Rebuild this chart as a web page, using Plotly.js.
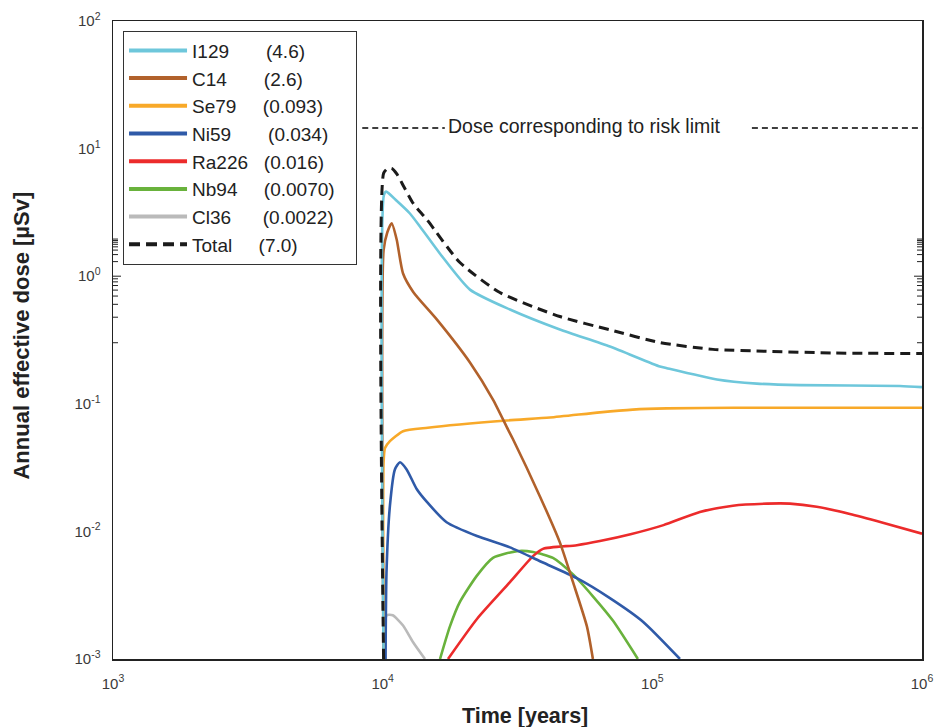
<!DOCTYPE html>
<html>
<head>
<meta charset="utf-8">
<script src="https://cdn.plot.ly/plotly-3.0.1.min.js"></script>
<style>html,body{margin:0;padding:0;background:#fff;}#chart{width:935px;height:727px;}</style>
</head>
<body>
<div id="chart"></div>
<script>
// ---- Data (time in years, annual effective dose in µSv) ----
const seriesNames = ["I129", "C14", "Se79", "Ni59", "Ra226", "Nb94", "Cl36", "Total"];
const peakLabels = ["(4.6)", "(2.6)", "(0.093)", "(0.034)", "(0.016)", "(0.0070)", "(0.0022)", "(7.0)"];

const i129X = [1.008e4, 1.01e4, 1.03e4, 1.127e4, 1.262e4, 1.375e4, 1.632e4, 2.107e4, 2.965e4, 4.54e4, 6.96e4, 1.067e5, 1.132e5, 1.736e5, 2.44e5, 3.53e5, 8.28e5, 1e6];
const i129Y = [0.001, 4.3, 4.6, 3.9, 3.1, 2.45, 1.5, 0.785, 0.548, 0.382, 0.281, 0.196, 0.19, 0.155, 0.144, 0.14, 0.138, 0.135];

const c14X = [1.008e4, 1.008e4, 1.04e4, 1.08e4, 1.127e4, 1.19e4, 1.3e4, 1.59e4, 2.107e4, 2.565e4, 2.915e4, 3.04e4, 3.83e4, 4.54e4, 5.08e4, 5.72e4, 6.02e4];
const c14Y = [0.001, 1.6, 2.2, 2.6, 1.94, 1.05, 0.75, 0.457, 0.211, 0.108, 0.063, 0.053, 0.0188, 0.0082, 0.004, 0.0018, 0.001];

const se79X = [1.008e4, 1.008e4, 1.02e4, 1.064e4, 1.19e4, 1.47e4, 2.89e4, 4.17e4, 6.39e4, 8.47e4, 1.13e5, 2e5, 1e6];
const se79Y = [0.001, 0.035, 0.045, 0.051, 0.061, 0.065, 0.074, 0.078, 0.0857, 0.090, 0.092, 0.093, 0.093];

const ni59X = [1.025e4, 1.033e4, 1.064e4, 1.11e4, 1.159e4, 1.227e4, 1.337e4, 1.456e4, 1.726e4, 2.237e4, 2.965e4, 3.93e4, 5.25e4, 6.96e4, 9.23e4, 1.266e5];
const ni59Y = [0.001, 0.0047, 0.0159, 0.0306, 0.0348, 0.0306, 0.0215, 0.0171, 0.0118, 0.0092, 0.0075, 0.0057, 0.0043, 0.003, 0.00196, 0.001];

const ra226X = [1.747e4, 2.237e4, 2.965e4, 3.61e4, 3.93e4, 5.25e4, 6.39e4, 8.3e4, 1.1e5, 1.5e5, 1.99e5, 2.66e5, 3.24e5, 4.07e5, 5.4e5, 7.16e5, 1e6];
const ra226Y = [0.001, 0.00206, 0.004, 0.0064, 0.0073, 0.0078, 0.0084, 0.0095, 0.0112, 0.0142, 0.0159, 0.0165, 0.0165, 0.0156, 0.0137, 0.0117, 0.0096];

const nb94X = [1.632e4, 1.776e4, 1.934e4, 2.237e4, 2.565e4, 3.148e4, 3.61e4, 4.28e4, 5.08e4, 6.02e4, 7.14e4, 8.84e4];
const nb94Y = [0.001, 0.0018, 0.0028, 0.0045, 0.0062, 0.0070, 0.0069, 0.0062, 0.0046, 0.0031, 0.0020, 0.001];

const cl36X = [1.02e4, 1.035e4, 1.09e4, 1.19e4, 1.295e4, 1.435e4];
const cl36Y = [0.001, 0.0022, 0.0022, 0.00183, 0.00136, 0.001];

const totalX = [1.008e4, 1.008e4, 1.04e4, 1.08e4, 1.13e4, 1.2e4, 1.3e4, 1.46e4, 1.934e4, 2.72e4, 4.54e4, 6.96e4, 1.067e5, 1.677e5, 2.66e5, 4.67e5, 1e6];
const totalY = [0.001, 6.4, 6.95, 7.0, 6.3, 5.0, 3.7, 2.77, 1.28, 0.745, 0.483, 0.38, 0.302, 0.267, 0.258, 0.25, 0.2476];

// Dose corresponding to the risk limit (broken around its label)
const riskX = [8.4e3, 1.7e4, 2.0e4, 2.34e5, 1e6];
const riskY = [14.5, 14.5, null, 14.5, 14.5];
const riskLabel = "Dose corresponding to risk limit";

// Axis ticks (decade exponents)
const xExponents = [3, 4, 5, 6];
const yExponents = [-3, -2, -1, 0, 1, 2];

const xTitle = "Time [years]";
const yTitle = "Annual effective dose [µSv]";

// ---- Styles ----
const colors = ["#6EC7DB", "#B1612B", "#F8A929", "#2F5AA8", "#EC2B2B", "#69B23C", "#BABABA", "#1b1b1b"];
const legendPad = [7, 7, 5, 7, 3, 5, 6, 5];
const legendTail = ["", "", "", "", "", "\u00A0\u00A0\u00A0", "", ""];
const xs = [i129X, c14X, se79X, ni59X, ra226X, nb94X, cl36X, totalX];
const ys = [i129Y, c14Y, se79Y, ni59Y, ra226Y, nb94Y, cl36Y, totalY];

function majorVals(exps) { return exps.map(e => Math.pow(10, e)); }
function majorText(exps) { return exps.map(e => '10<sup>' + e + '</sup>'); }

// tick marks drawn as axis-referenced shapes (inside, mirrored on all four sides)
function tickShapes(exps, axis) {
  const out = [];
  const line = {color: '#222', width: 1};
  const add = (v, len) => {
    const lv = Math.log10(v);
    if (axis === 'x') {
      // thin filled rectangles (1.2 px wide) anchored at the tick value
      out.push({type: 'rect', xref: 'x', xsizemode: 'pixel', xanchor: lv, x0: -0.6, x1: 0.6,
                yref: 'paper', ysizemode: 'pixel', yanchor: 0, y0: 0, y1: len,
                fillcolor: '#222', line: {width: 0}, layer: 'above'});
      out.push({type: 'rect', xref: 'x', xsizemode: 'pixel', xanchor: lv, x0: -0.6, x1: 0.6,
                yref: 'paper', ysizemode: 'pixel', yanchor: 1, y0: -len, y1: 0,
                fillcolor: '#222', line: {width: 0}, layer: 'above'});
    } else {
      out.push({type: 'line', yref: 'y', xref: 'paper', xsizemode: 'pixel', xanchor: 0, y0: lv, y1: lv, x0: 0, x1: len, line, layer: 'above'});
      out.push({type: 'line', yref: 'y', xref: 'paper', xsizemode: 'pixel', xanchor: 1, y0: lv, y1: lv, x0: 0, x1: -len, line, layer: 'above'});
    }
  };
  for (let k = 0; k < exps.length; k++) {
    const base = Math.pow(10, exps[k]);
    if (k > 0 && k < exps.length - 1) add(base, 8);
    if (k < exps.length - 1) for (let d = 2; d <= 9; d++) add(d * base, 5);
  }
  return out;
}

const traces = [];
// legend-only entries (thicker sample lines)
seriesNames.forEach((n, i) => {
  traces.push({
    x: [null], y: [null], type: 'scatter', mode: 'lines',
    name: n + '\u00A0'.repeat(legendPad[i]) + peakLabels[i] + legendTail[i],
    line: {color: colors[i], width: 4, dash: i === 7 ? '11px,6px' : 'solid'},
    showlegend: true, hoverinfo: 'skip'
  });
});
// risk limit line
traces.push({
  x: riskX, y: riskY, type: 'scatter', mode: 'lines', showlegend: false,
  line: {color: '#000', width: 1.3, dash: '6px,4px'}, connectgaps: false
});
// plotted curves, drawn bottom to top
const drawOrder = [6, 5, 4, 3, 2, 1, 0, 7];
drawOrder.forEach(i => {
  traces.push({
    x: xs[i], y: ys[i], type: 'scatter', mode: 'lines', showlegend: false,
    line: {color: colors[i], width: i === 7 ? 3 : 2.6, dash: i === 7 ? '10px,6px' : 'solid', shape: 'spline', smoothing: 0.6},
    hoverinfo: 'x+y'
  });
});

const tickFont = {family: 'Liberation Sans, Arial, sans-serif', size: 15, color: '#3a3a3a'};
const layout = {
  width: 935, height: 727,
  margin: {l: 113, r: 13, t: 21, b: 68},
  font: {family: 'Liberation Sans, Arial, sans-serif', color: '#222'},
  xaxis: {
    type: 'log', range: [3, 6], tickmode: 'array',
    tickvals: majorVals(xExponents), ticktext: majorText(xExponents),
    ticks: '', showline: true, linecolor: '#222', linewidth: 1.5, mirror: true,
    showgrid: false, zeroline: false, tickfont: tickFont, ticklabelstandoff: 10
  },
  yaxis: {
    type: 'log', range: [-3, 2], tickmode: 'array',
    tickvals: majorVals(yExponents), ticktext: majorText(yExponents),
    ticks: '', showline: true, linecolor: '#222', linewidth: 1.5, mirror: true,
    showgrid: false, zeroline: false, tickfont: tickFont, ticklabelstandoff: 8
  },
  shapes: tickShapes(xExponents, 'x').concat(tickShapes(yExponents, 'y')),
  showlegend: true,
  legend: {
    x: 0.0124, y: 0.985, xanchor: 'left', yanchor: 'top',
    bgcolor: '#fff', bordercolor: '#333', borderwidth: 1,
    font: {family: 'Liberation Sans, Arial, sans-serif', size: 19, color: '#222'},
    itemwidth: 58, tracegroupgap: 0
  },
  annotations: [
    {text: riskLabel, xref: 'paper', yref: 'paper', x: 0.5834, y: 0.8354, xanchor: 'center', yanchor: 'middle',
     showarrow: false, font: {size: 19.5, color: '#222'}},
    {text: '<b>' + xTitle + '</b>', xref: 'paper', yref: 'paper', x: 0.5097, y: -0.0889, xanchor: 'center', yanchor: 'middle',
     showarrow: false, font: {size: 21.5, color: '#222'}},
    {text: '<b>' + yTitle + '</b>', xref: 'paper', yref: 'paper', x: -0.1125, y: 0.507, xanchor: 'center', yanchor: 'middle',
     textangle: -90, showarrow: false, font: {size: 22, color: '#222'}}
  ]
};

Plotly.newPlot('chart', traces, layout, {staticPlot: true, displayModeBar: false});
</script>
</body>
</html>
